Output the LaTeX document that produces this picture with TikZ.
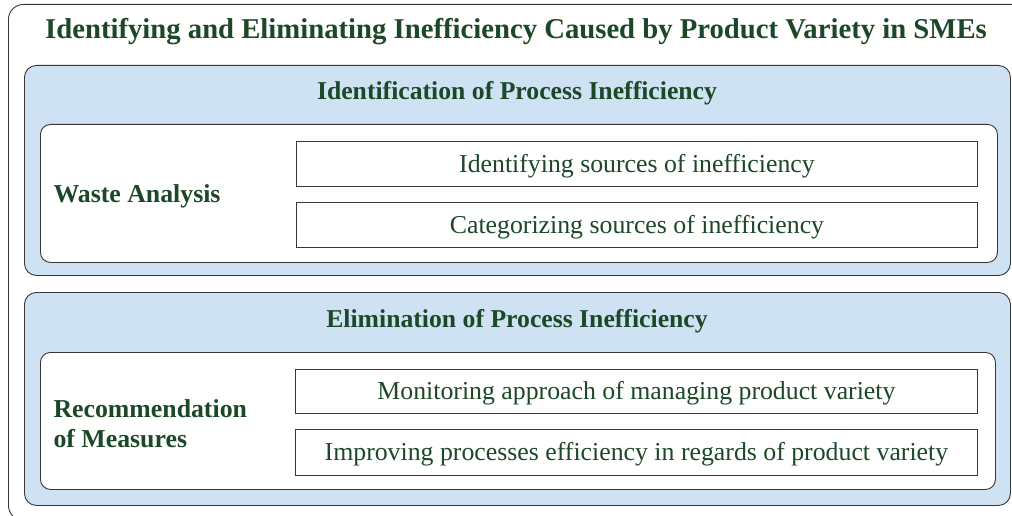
\documentclass[tikz,border=0pt]{standalone}
\usepackage{fontspec}
\setmainfont{Liberation Serif}
\definecolor{tgreen}{RGB}{28,72,40}
\definecolor{lblue}{RGB}{207,226,243}
\definecolor{bord}{RGB}{55,55,55}
\tikzset{
  box/.style={draw=bord, line width=0.9pt, inner sep=0pt, anchor=north west},
  outerbox/.style={box, rounded corners=15pt, fill=white},
  bluebox/.style={box, rounded corners=12pt, fill=lblue},
  innerbox/.style={box, rounded corners=10pt, fill=white},
  itembox/.style={box, fill=white},
  titletxt/.style={text=tgreen, font=\fontsize{28.7}{33}\selectfont\bfseries},
  hdrtxt/.style={text=tgreen, font=\fontsize{25.7}{30}\selectfont\bfseries},
  labtxt/.style={text=tgreen, font=\fontsize{25.8}{30}\selectfont\bfseries, align=left, anchor=west},
  itemtxt/.style={text=tgreen, font=\fontsize{25.8}{30}\selectfont},
}
\begin{document}
\begin{tikzpicture}[x=1pt,y=1pt]
\useasboundingbox (0,0) rectangle (1012,515);
\clip (0,0) rectangle (1012,515);
\node[outerbox, minimum width=1030pt, minimum height=516pt] (outer) at (8,511) {};
\node[titletxt] (title) at (516,483) {Identifying and Eliminating Inefficiency Caused by Product Variety in SMEs};
% section 1
\node[bluebox, minimum width=986pt, minimum height=210pt] (blue1) at (24,450) {};
\node[hdrtxt] (hdr1) at (517,421.5) {Identification of Process Inefficiency};
\node[innerbox, minimum width=957pt, minimum height=138pt] (inner1) at (40,391) {};
\node[labtxt] (waste) at (50,319) {Waste Analysis};
\node[itembox, minimum width=681pt, minimum height=45pt] (ia) at (296,374) {};
\node[itemtxt] (iat) at ([yshift=-2pt]ia.center) {Identifying sources of inefficiency};
\node[itembox, minimum width=681pt, minimum height=45pt] (ib) at (296,313) {};
\node[itemtxt] (ibt) at ([yshift=-2pt]ib.center) {Categorizing sources of inefficiency};
% section 2
\node[bluebox, minimum width=986pt, minimum height=213pt] (blue2) at (24,223) {};
\node[hdrtxt] (hdr2) at (517,193.5) {Elimination of Process Inefficiency};
\node[innerbox, minimum width=955pt, minimum height=137pt] (inner2) at (40,163) {};
\node[labtxt] (rec) at (50,91.5) {Recommendation\\of Measures};
\node[itembox, minimum width=682pt, minimum height=44pt] (ic) at (295,146) {};
\node[itemtxt] (ict) at ([yshift=-2pt]ic.center) {Monitoring approach of managing product variety};
\node[itembox, minimum width=682pt, minimum height=46pt] (id) at (295,86) {};
\node[itemtxt] (idt) at ([yshift=-2pt]id.center) {Improving processes efficiency in regards of product variety};
\end{tikzpicture}
\end{document}
